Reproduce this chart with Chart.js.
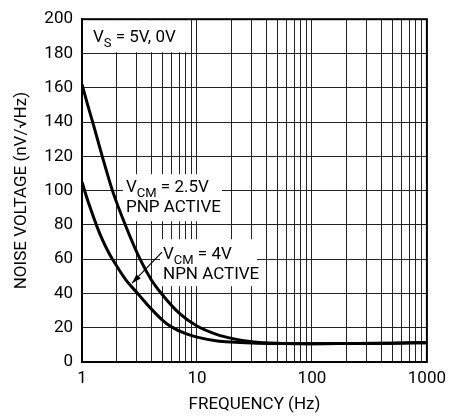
<!DOCTYPE html>
<html>
<head>
<meta charset="utf-8">
<script src="https://cdn.jsdelivr.net/npm/chart.js@4/dist/chart.umd.min.js"></script>
<style>
  html, body { margin: 0; padding: 0; background: #fff; }
  #wrap { width: 453px; height: 416px; }
</style>
</head>
<body>
<div id="wrap"><canvas id="noiseChart"></canvas></div>
<script>
// values
var freqPnp  = [1, 1.12, 1.25, 1.5, 1.84, 2.43, 3.2, 4, 4.9, 7, 10, 15, 20, 30, 50, 100, 200, 500, 1000];
var noisePnp = [162, 150, 139, 120, 100, 78.5, 60, 48, 40, 28.5, 21, 16, 13.8, 11.8, 10.9, 10.7, 10.8, 11, 11.3];
var freqNpn  = [1, 1.1, 1.2, 1.35, 1.5, 1.7, 1.84, 2.4, 3.05, 4, 5, 6, 8, 10, 15, 20, 30, 50, 100, 200, 500, 1000];
var noiseNpn = [105, 96, 88.5, 79, 71.5, 64, 60, 48, 40, 31, 24.5, 20.5, 16.5, 14.5, 12.3, 11.6, 11.1, 10.8, 10.7, 10.8, 11, 11.3];

var xGridVals = [1, 2, 3, 4, 5, 6, 7, 8, 9, 10, 20, 30, 40, 50, 60, 70, 80, 90,
                 100, 200, 300, 400, 500, 600, 700, 800, 900, 1000];
var xLabels = [1, 10, 100, 1000];

var fontFam = "Roboto, 'Liberation Sans', sans-serif";
Chart.defaults.font.family = fontFam;
Chart.defaults.font.size = 17;
Chart.defaults.color = '#000';

function pts(xs, ys) {
    return xs.map(function(x, i) { return { x: x, y: ys[i] }; });
}

// draws V with a subscript, then the rest of the line
function subText(ctx, x, y, main, sub, rest) {
    ctx.font = '17px ' + fontFam;
    ctx.fillText(main, x, y);
    x += ctx.measureText(main).width;
    ctx.font = '13px ' + fontFam;
    ctx.fillText(sub, x, y + 5);
    x += ctx.measureText(sub).width;
    ctx.font = '17px ' + fontFam;
    ctx.fillText(rest, x, y);
    return x + ctx.measureText(rest).width;
}

var labelsPlugin = {
    id: 'labels',
    beforeDatasetsDraw: function(chart) {
        var ctx = chart.ctx, a = chart.chartArea;
        ctx.save();
        ctx.fillStyle = '#fff';
        ctx.fillRect(a.left + 1, a.top + 1, 103, 32);
        ctx.fillRect(a.left + 41, a.top + 155, 99, 47);
        ctx.fillRect(a.left + 78, a.top + 220, 97, 47);
        ctx.fillStyle = '#000';
        ctx.textBaseline = 'alphabetic';
        subText(ctx, a.left + 11, a.top + 23, 'V', 'S', ' = 5V, 0V');
        subText(ctx, a.left + 44, a.top + 173, 'V', 'CM', ' = 2.5V');
        ctx.font = '17px ' + fontFam;
        ctx.fillText('PNP ACTIVE', a.left + 44, a.top + 193);
        subText(ctx, a.left + 81, a.top + 240, 'V', 'CM', ' = 4V');
        ctx.font = '17px ' + fontFam;
        ctx.fillText('NPN ACTIVE', a.left + 81, a.top + 260);
        ctx.restore();
    },
    afterDatasetsDraw: function(chart) {
        var ctx = chart.ctx, a = chart.chartArea;
        ctx.save();
        // arrow to the NPN curve
        var x1 = a.left + 80, y1 = a.top + 233, x2 = a.left + 50, y2 = a.top + 264;
        ctx.strokeStyle = '#000';
        ctx.lineWidth = 1.2;
        ctx.beginPath();
        ctx.moveTo(x1, y1);
        ctx.lineTo(x2, y2);
        ctx.stroke();
        var ang = Math.atan2(y2 - y1, x2 - x1);
        ctx.fillStyle = '#000';
        ctx.beginPath();
        ctx.moveTo(x2, y2);
        ctx.lineTo(x2 - 10 * Math.cos(ang - 0.3), y2 - 10 * Math.sin(ang - 0.3));
        ctx.lineTo(x2 - 10 * Math.cos(ang + 0.3), y2 - 10 * Math.sin(ang + 0.3));
        ctx.closePath();
        ctx.fill();
        // plot frame
        ctx.lineWidth = 2;
        ctx.strokeRect(a.left, a.top, a.right - a.left, a.bottom - a.top);
        ctx.restore();
    }
};

var ctx = document.getElementById('noiseChart').getContext('2d');
var noiseChart = new Chart(ctx, {
    type: 'line',
    data: {
        datasets: [{
            label: 'VCM = 2.5V PNP ACTIVE',
            data: pts(freqPnp, noisePnp),
            borderColor: '#000',
            borderWidth: 3,
            pointRadius: 0,
            cubicInterpolationMode: 'monotone',
            fill: false
        }, {
            label: 'VCM = 4V NPN ACTIVE',
            data: pts(freqNpn, noiseNpn),
            borderColor: '#000',
            borderWidth: 3,
            pointRadius: 0,
            cubicInterpolationMode: 'monotone',
            fill: false
        }]
    },
    options: {
        responsive: true,
        maintainAspectRatio: false,
        animation: false,
        layout: { padding: { top: 10, right: 20, left: 0, bottom: 0 } },
        plugins: {
            legend: { display: false },
            tooltip: { enabled: false }
        },
        scales: {
            x: {
                type: 'logarithmic',
                min: 1,
                max: 1000,
                afterBuildTicks: function(scale) {
                    scale.ticks = xGridVals.map(function(v) { return { value: v }; });
                },
                afterFit: function(scale) { scale.height = 54; },
                grid: { color: '#222', lineWidth: 1, drawTicks: false },
                border: { color: '#000', width: 2 },
                ticks: {
                    autoSkip: false,
                    maxRotation: 0,
                    padding: 7,
                    callback: function(value) {
                        return xLabels.indexOf(value) >= 0 ? String(value) : '';
                    }
                },
                title: {
                    display: true,
                    text: 'FREQUENCY (Hz)',
                    padding: { top: 0, bottom: 1 }
                }
            },
            y: {
                min: 0,
                max: 200,
                afterFit: function(scale) { scale.width = 82; },
                grid: { color: '#222', lineWidth: 1, drawTicks: false },
                border: { color: '#000', width: 2 },
                ticks: { stepSize: 20, padding: 9 },
                title: {
                    display: true,
                    text: 'NOISE VOLTAGE (nV/\u221AHz)',
                    padding: { top: 12, bottom: 0 }
                }
            }
        }
    },
    plugins: [labelsPlugin]
});
</script>
</body>
</html>
